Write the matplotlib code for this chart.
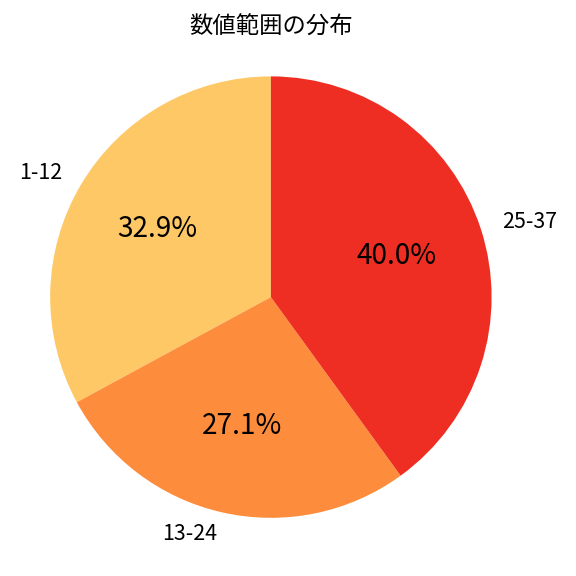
import matplotlib
matplotlib.use("Agg")
import matplotlib.pyplot as plt

plt.rcParams['font.family'] = ['Noto Sans CJK JP', 'DejaVu Sans']

# 数値範囲ごとの割合
labels = ['1-12', '13-24', '25-37']
values = [32.9, 27.1, 40.0]
colors = ['#FEC866', '#FD8D3C', '#EE2E22']

fig = plt.figure(figsize=(6, 6), dpi=96)
# axes placed so the pie sits where the reference has it
ax = fig.add_axes([-0.0087, 0.0052, 0.958, 0.958])
wedges, texts, autotexts = ax.pie(values, labels=labels, colors=colors,
                                  autopct='%1.1f%%', startangle=90,
                                  textprops={'fontsize': 16})
for t in autotexts:
    t.set_fontsize(21)
ax.axis('equal')
ax.set_xlim(-1.25, 1.25)
ax.set_ylim(-1.25, 1.25)
fig.text(0.471, 0.953, '数値範囲の分布', fontsize=17.5, ha='center', va='center')
plt.savefig('out.png')
